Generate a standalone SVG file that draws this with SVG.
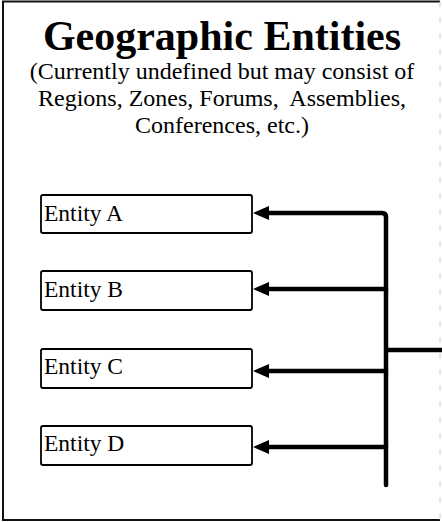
<svg xmlns="http://www.w3.org/2000/svg" width="442" height="522" viewBox="0 0 442 522">
  <defs>
    <marker id="arr" markerUnits="userSpaceOnUse" markerWidth="16" markerHeight="16" viewBox="0 0 16 16" refX="1" refY="8" orient="auto">
      <polygon points="0,1 16,8 0,15" fill="#000"/>
    </marker>
    <style>
      .title { font-family: "Liberation Serif", "Times New Roman", serif; font-weight: bold; font-size: 42px; fill: #000; }
      .sub { font-family: "Liberation Serif", "Times New Roman", serif; font-size: 24px; fill: #000; white-space: pre; }
      .box { fill: #fff; stroke: #000; stroke-width: 1.8; }
      .lbl { font-family: "Liberation Serif", "Times New Roman", serif; font-size: 23.5px; fill: #000; }
      .wire { fill: none; stroke: #000; stroke-width: 4.5; stroke-linecap: round; stroke-linejoin: round; }
    </style>
  </defs>
  <rect width="442" height="522" fill="#fff"/>
  <g id="frame">
    <path d="M440,1.5 H3 V520 H440" fill="none" stroke="#111" stroke-width="2"/>
    <path d="M440,1.5 V520" fill="none" stroke="#ccc" stroke-width="1" stroke-dasharray="6 10"/>
  </g>
  <g id="heading">
    <text class="title" x="222" y="50" text-anchor="middle">Geographic Entities</text>
    <text class="sub" x="222" y="79" text-anchor="middle">(Currently undefined but may consist of</text>
    <text class="sub" x="222" y="106" text-anchor="middle" xml:space="preserve">Regions, Zones, Forums,  Assemblies,</text>
    <text class="sub" x="222" y="133" text-anchor="middle">Conferences, etc.)</text>
  </g>
  <g id="entityA">
    <rect class="box" x="41" y="195" width="211" height="38" rx="2"/>
    <text class="lbl" x="44" y="221">Entity A</text>
  </g>
  <g id="entityB">
    <rect class="box" x="41" y="271" width="211" height="39" rx="2"/>
    <text class="lbl" x="44" y="297">Entity B</text>
  </g>
  <g id="entityC">
    <rect class="box" x="41" y="349" width="211" height="39" rx="2"/>
    <text class="lbl" x="44" y="374">Entity C</text>
  </g>
  <g id="entityD">
    <rect class="box" x="41" y="426" width="211" height="39" rx="2"/>
    <text class="lbl" x="44" y="451">Entity D</text>
  </g>
  <g id="connectors">
    <path class="wire" d="M386,485 V217 Q386,213 382,213 H268" marker-end="url(#arr)"/>
    <path class="wire" d="M386,289 H268" marker-end="url(#arr)"/>
    <path class="wire" d="M386,371 H268" marker-end="url(#arr)"/>
    <path class="wire" d="M386,447 H268" marker-end="url(#arr)"/>
    <path class="wire" d="M386,350 H442" style="stroke-linecap:butt"/>
  </g>
</svg>
